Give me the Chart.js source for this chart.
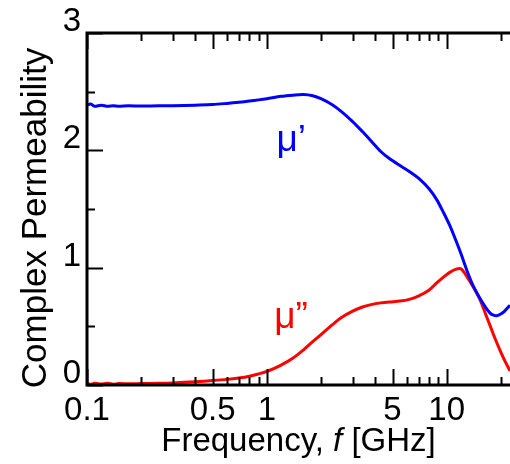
<!DOCTYPE html>
<html lang="en">
<head>
<meta charset="UTF-8">
<title>Complex Permeability</title>
<script src="https://cdn.jsdelivr.net/npm/chart.js@4.4.0/dist/chart.umd.min.js"></script>
<style>
  body { margin: 0; background: #fff; }
  #wrap { width: 510px; height: 464px; }
</style>
</head>
<body>
<div id="wrap"><canvas id="myChart" width="510" height="464"></canvas></div>
<script>
// frequency points (GHz)
const freq = [0.1, 0.105, 0.11, 0.12, 0.13, 0.14, 0.15, 0.17, 0.2, 0.25, 0.3, 0.4, 0.5, 0.6, 0.7, 0.8, 0.9,
  1.0, 1.2, 1.4, 1.6, 1.8, 2.0, 2.3, 2.6, 3.0, 3.4, 3.8, 4.3, 4.8, 5.5, 6.2, 7.0, 8.0, 8.8, 9.6,
  10.4, 11.2, 12.0, 13.0, 14.0, 15.3, 16.5, 17.5, 18.2, 19.0, 20.0, 21.0, 22.5];

// mu' (real part)
const muReal = [2.385, 2.395, 2.375, 2.385, 2.375, 2.38, 2.375, 2.38, 2.377, 2.38, 2.38, 2.385, 2.39, 2.40, 2.41, 2.42, 2.43,
  2.44, 2.46, 2.47, 2.475, 2.465, 2.44, 2.39, 2.33, 2.245, 2.16, 2.08, 1.99, 1.93, 1.87, 1.82, 1.76, 1.67, 1.58, 1.47,
  1.36, 1.24, 1.12, 0.97, 0.85, 0.74, 0.66, 0.61, 0.595, 0.59, 0.605, 0.63, 0.68];

// mu'' (imaginary part)
const muImag = [0.015, 0.005, 0.015, 0.008, 0.014, 0.006, 0.012, 0.01, 0.012, 0.014, 0.018, 0.028, 0.038, 0.048, 0.06, 0.075, 0.095,
  0.115, 0.17, 0.23, 0.30, 0.37, 0.43, 0.51, 0.575, 0.63, 0.665, 0.685, 0.70, 0.708, 0.715, 0.73, 0.76, 0.81, 0.87, 0.92,
  0.96, 0.985, 0.99, 0.92, 0.84, 0.73, 0.60, 0.50, 0.43, 0.36, 0.28, 0.21, 0.12];

// axis ticks
const xLabels = [0.1, 0.5, 1, 5, 10];
const xMinor = [0.2, 0.3, 0.4, 0.6, 0.7, 0.8, 0.9, 2, 3, 4, 6, 7, 8, 9, 20];
const yLabels = [0, 1, 2, 3];
const yMinor = [0.5, 1.5, 2.5];

const FONT = "'Liberation Sans', Arial, sans-serif";

function toPoints(ys) {
  return freq.map((f, i) => ({ x: f, y: ys[i] }));
}

// frame, inward ticks, curve labels and axis titles
const decor = {
  id: 'decor',
  afterDraw(chart) {
    const ctx = chart.ctx;
    const a = chart.chartArea;
    const xs = chart.scales.x, ys = chart.scales.y;
    ctx.save();
    ctx.strokeStyle = '#000';
    ctx.lineCap = 'butt';

    ctx.lineWidth = 2;
    ctx.beginPath();
    xLabels.concat(xMinor).forEach(v => {
      const len = xLabels.includes(v) ? 16 : 8;
      const px = Math.round(xs.getPixelForValue(v)) + 0.5;
      ctx.moveTo(px, a.bottom); ctx.lineTo(px, a.bottom - len);
      ctx.moveTo(px, a.top); ctx.lineTo(px, a.top + len);
    });
    yLabels.concat(yMinor).forEach(v => {
      const len = yLabels.includes(v) ? 16 : 8;
      const py = Math.round(ys.getPixelForValue(v)) + 0.5;
      ctx.moveTo(a.left, py); ctx.lineTo(a.left + len, py);
    });
    ctx.stroke();

    ctx.lineWidth = 3;
    ctx.beginPath();
    ctx.moveTo(a.right, a.top); ctx.lineTo(a.left, a.top);
    ctx.lineTo(a.left, a.bottom); ctx.lineTo(a.right, a.bottom);
    ctx.stroke();

    // curve labels
    ctx.font = '37px ' + FONT;
    ctx.textBaseline = 'middle';
    ctx.textAlign = 'left';
    ctx.fillStyle = '#0000ff';
    ctx.fillText('\u03bc\u2019', xs.getPixelForValue(1.13), ys.getPixelForValue(2.08));
    ctx.fillStyle = '#ff0000';
    ctx.fillText('\u03bc\u201d', xs.getPixelForValue(1.1), ys.getPixelForValue(0.57));

    // y axis title
    ctx.fillStyle = '#000';
    ctx.save();
    ctx.font = '35px ' + FONT;
    ctx.textAlign = 'center';
    ctx.textBaseline = 'alphabetic';
    ctx.translate(46, 218);
    ctx.rotate(-Math.PI / 2);
    ctx.fillText('Complex Permeability', 0, 0);
    ctx.restore();

    // x axis title with italic f
    const parts = [
      { t: 'Frequency, ', f: '33px ' + FONT },
      { t: 'f', f: 'italic 33px ' + FONT },
      { t: ' [GHz]', f: '33px ' + FONT }
    ];
    let w = 0;
    parts.forEach(p => { ctx.font = p.f; w += ctx.measureText(p.t).width; });
    let x = (a.left + a.right) / 2 - w / 2;
    ctx.textAlign = 'left';
    ctx.textBaseline = 'alphabetic';
    parts.forEach(p => {
      ctx.font = p.f;
      ctx.fillText(p.t, x, 451);
      x += ctx.measureText(p.t).width;
    });
    ctx.restore();
  }
};

const ctx = document.getElementById('myChart').getContext('2d');
const myChart = new Chart(ctx, {
  type: 'line',
  data: {
    datasets: [
      {
        label: "\u03bc'",
        data: toPoints(muReal),
        borderColor: '#0000ff',
        borderWidth: 3,
        pointRadius: 0,
        tension: 0.3
      },
      {
        label: "\u03bc''",
        data: toPoints(muImag),
        borderColor: '#ff0000',
        borderWidth: 3,
        pointRadius: 0,
        tension: 0.3
      }
    ]
  },
  options: {
    responsive: false,
    animation: false,
    layout: { padding: { top: 33, right: 0, left: 0, bottom: 0 } },
    plugins: { legend: { display: false }, tooltip: { enabled: false } },
    scales: {
      x: {
        type: 'logarithmic',
        min: 0.1,
        max: 22.5,
        grid: { display: false, drawTicks: false },
        border: { display: false },
        afterBuildTicks: s => { s.ticks = xLabels.map(v => ({ value: v })); },
        afterFit: s => { s.height = 79; },
        ticks: {
          color: '#000',
          font: { family: FONT, size: 33 },
          padding: 6,
          maxRotation: 0,
          autoSkip: false,
          callback: v => String(v)
        }
      },
      y: {
        min: 0,
        max: 3,
        grid: { display: false, drawTicks: false },
        border: { display: false },
        afterFit: s => { s.width = 87; },
        ticks: {
          color: '#000',
          font: { family: FONT, size: 33 },
          stepSize: 1,
          padding: 6,
          labelOffset: -11
        }
      }
    }
  },
  plugins: [decor]
});
</script>
</body>
</html>
